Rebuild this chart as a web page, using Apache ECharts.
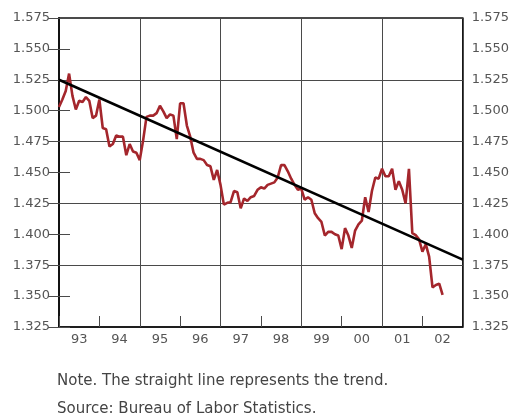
<!DOCTYPE html>
<html>
<head>
<meta charset="utf-8">
<script src="https://cdn.jsdelivr.net/npm/echarts@6/dist/echarts.min.js"></script>
<style>
  html, body { margin: 0; padding: 0; background: #fff; }
  #chart { width: 512px; height: 417px; }
</style>
</head>
<body>
<div id="chart"></div>
<script>
// Monthly values, January 1993 through July 2002
const rateValues = [
  1.503, 1.509, 1.516, 1.530, 1.512, 1.501, 1.508, 1.507, 1.511, 1.508, 1.494, 1.496,
  1.509, 1.486, 1.485, 1.471, 1.473, 1.480, 1.479, 1.479, 1.464, 1.473, 1.467, 1.466,
  1.460, 1.476, 1.495, 1.496, 1.496, 1.498, 1.504, 1.4995, 1.494, 1.497, 1.496, 1.477,
  1.506, 1.506, 1.488, 1.479, 1.466, 1.461, 1.461, 1.460, 1.456, 1.455, 1.444, 1.452,
  1.440, 1.424, 1.4255, 1.426, 1.435, 1.434, 1.421, 1.429, 1.427, 1.430, 1.431, 1.436,
  1.438, 1.437, 1.440, 1.441, 1.442, 1.446, 1.456, 1.456, 1.451, 1.445, 1.440, 1.436,
  1.437, 1.428, 1.430, 1.428, 1.417, 1.413, 1.410, 1.399, 1.402, 1.402, 1.400, 1.399,
  1.388, 1.405, 1.399, 1.389, 1.403, 1.408, 1.411, 1.430, 1.418, 1.435, 1.446, 1.445,
  1.453, 1.447, 1.447, 1.453, 1.436, 1.443, 1.436, 1.425, 1.453, 1.401, 1.3993, 1.396,
  1.386, 1.392, 1.382, 1.357, 1.359, 1.360, 1.351
];
const yearLabels = ['93', '94', '95', '96', '97', '98', '99', '00', '01', '02'];
const trendMonths = [0, 120];
const trendValues = [1.525, 1.3795];
const noteLines = [
  'Note. The straight line represents the trend.',
  'Source: Bureau of Labor Statistics.'
];

const FONT = "'DejaVu Sans', 'Liberation Sans', sans-serif";
const labelColor = '#555';
const gridColor = '#4a4a4a';

const chart = echarts.init(document.getElementById('chart'), null, { renderer: 'canvas' });

const yBase = {
  type: 'value', min: 1.325, max: 1.575,
  axisLine: { show: true, lineStyle: { color: '#111', width: 1.5 } }
};

const option = {
  animation: false,
  backgroundColor: '#fff',
  grid: {
    left: 59, top: 18, right: 45, bottom: 90,
    show: true, borderColor: '#111', borderWidth: 1.5
  },
  graphic: noteLines.map((t, i) => ({
    type: 'text', x: 57, y: 381 + i * 28,
    style: { text: t, font: '15px ' + FONT, fill: '#444', verticalAlign: 'middle' }
  })),
  xAxis: [
    { // gridlines every 2 years
      type: 'value', min: 0, max: 120, interval: 24,
      axisLine: { show: true, lineStyle: { color: '#111', width: 1.5 } },
      axisTick: { show: false }, axisLabel: { show: false },
      splitLine: { show: true, lineStyle: { color: gridColor, width: 1 } }
    },
    { // short ticks every year
      type: 'value', min: 0, max: 120, interval: 12, position: 'bottom',
      axisLine: { show: false },
      axisTick: { show: true, inside: true, length: 11, lineStyle: { color: gridColor, width: 1 } },
      axisLabel: { show: false }, splitLine: { show: false }
    },
    { // year labels centred in each year
      type: 'category', data: yearLabels, boundaryGap: true, position: 'bottom',
      axisLine: { show: false }, axisTick: { show: false },
      axisLabel: { color: labelColor, fontSize: 13, fontFamily: FONT, margin: 6 },
      splitLine: { show: false }
    }
  ],
  yAxis: [
    Object.assign({}, yBase, {
      position: 'left', interval: 0.025,
      axisTick: { show: true, inside: true, length: 11, lineStyle: { color: gridColor, width: 1 } },
      axisLabel: { color: labelColor, fontSize: 13, fontFamily: FONT, margin: 9,
        formatter: v => v.toFixed(3) },
      splitLine: { show: false }
    }),
    Object.assign({}, yBase, {
      position: 'right', interval: 0.025,
      axisTick: { show: true, inside: true, length: 11, lineStyle: { color: gridColor, width: 1 } },
      axisLabel: { color: labelColor, fontSize: 13, fontFamily: FONT, margin: 9,
        formatter: v => v.toFixed(3) },
      splitLine: { show: false }
    }),
    Object.assign({}, yBase, {
      position: 'left', interval: 0.05,
      axisLine: { show: false }, axisTick: { show: false }, axisLabel: { show: false },
      splitLine: { show: true, lineStyle: { color: gridColor, width: 1 } }
    })
  ],
  series: [
    {
      type: 'line', xAxisIndex: 0, yAxisIndex: 0,
      data: rateValues.map((v, i) => [i, v]),
      showSymbol: false, symbol: 'none',
      lineStyle: { color: '#a4262c', width: 2.6 },
      z: 3
    },
    {
      type: 'line', xAxisIndex: 0, yAxisIndex: 0,
      data: trendMonths.map((m, i) => [m, trendValues[i]]),
      showSymbol: false, symbol: 'none',
      lineStyle: { color: '#000', width: 2.6 },
      z: 4
    }
  ]
};
chart.setOption(option);
</script>
</body>
</html>
